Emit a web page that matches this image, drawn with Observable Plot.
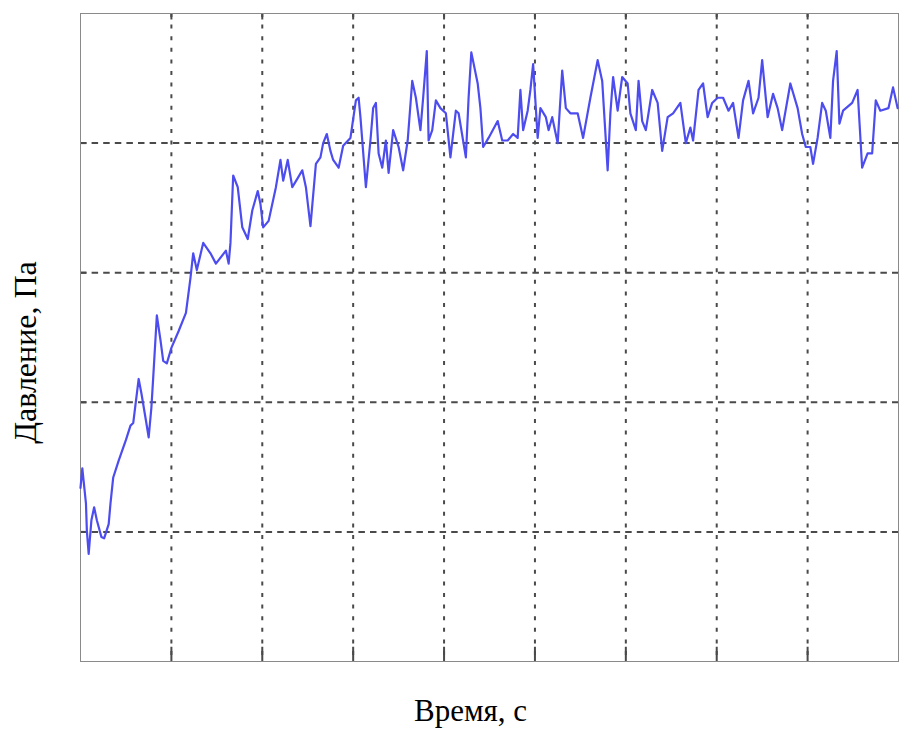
<!DOCTYPE html>
<html>
<head>
<meta charset="utf-8">
<script src="https://cdn.jsdelivr.net/npm/d3@7"></script>
<script src="https://cdn.jsdelivr.net/npm/@observablehq/plot@0.6"></script>
<style>
  html, body { margin: 0; padding: 0; background: #fff; }
</style>
</head>
<body>
<div id="chart"></div>
<script>
// Time (grid units) and pressure (grid units)
const time = [
  0.00,0.02,0.06,0.07,0.09,0.12,0.15,0.18,0.23,0.26,
  0.31,0.33,0.36,0.42,0.50,0.55,0.58,0.64,0.67,0.72,
  0.75,0.78,0.80,0.84,0.88,0.91,0.95,1.00,1.08,1.16,
  1.21,1.24,1.28,1.35,1.43,1.49,1.60,1.63,1.65,1.68,
  1.73,1.78,1.84,1.89,1.95,1.98,2.01,2.07,2.15,2.20,
  2.23,2.28,2.33,2.39,2.44,2.48,2.53,2.59,2.64,2.67,
  2.71,2.75,2.78,2.84,2.89,2.97,3.03,3.06,3.08,3.14,
  3.19,3.22,3.25,3.28,3.32,3.36,3.39,3.44,3.50,3.55,
  3.60,3.65,3.69,3.74,3.77,3.81,3.83,3.87,3.91,3.96,
  4.02,4.07,4.13,4.16,4.24,4.27,4.30,4.37,4.40,4.43,
  4.49,4.59,4.64,4.70,4.76,4.81,4.84,4.87,4.92,4.95,
  4.98,5.03,5.06,5.12,5.15,5.19,5.25,5.30,5.34,5.39,
  5.47,5.53,5.61,5.69,5.74,5.80,5.83,5.86,5.91,5.96,
  6.02,6.05,6.11,6.14,6.18,6.22,6.29,6.35,6.40,6.46,
  6.52,6.60,6.66,6.71,6.74,6.80,6.85,6.90,6.95,7.01,
  7.07,7.13,7.18,7.24,7.29,7.35,7.40,7.46,7.50,7.56,
  7.62,7.67,7.72,7.81,7.89,7.94,7.98,8.03,8.06,8.11,
  8.16,8.20,8.25,8.28,8.32,8.35,8.39,8.49,8.55,8.60,
  8.66,8.71,8.75,8.80,8.89,8.94,8.99
];
const pressure = [
  1.34,1.49,1.22,1.01,0.83,1.09,1.19,1.09,0.96,0.95,
  1.06,1.22,1.42,1.55,1.71,1.82,1.84,2.18,2.07,1.86,
  1.73,1.96,2.19,2.67,2.48,2.32,2.30,2.42,2.55,2.69,
  2.96,3.15,3.02,3.23,3.15,3.07,3.17,3.07,3.23,3.75,
  3.66,3.35,3.26,3.48,3.63,3.53,3.35,3.40,3.66,3.87,
  3.71,3.87,3.66,3.73,3.79,3.66,3.36,3.84,3.89,4.00,
  4.07,3.94,3.87,3.81,3.98,4.04,4.33,4.35,4.20,3.66,
  4.02,4.27,4.31,3.92,3.81,4.02,3.77,4.10,3.97,3.79,
  4.02,4.48,4.35,4.10,4.35,4.71,4.02,4.10,4.33,4.27,
  4.23,3.89,4.25,4.23,3.89,4.35,4.70,4.46,4.27,3.97,
  4.04,4.17,4.02,4.02,4.07,4.04,4.41,4.10,4.25,4.41,
  4.61,4.04,4.27,4.20,4.10,4.20,4.00,4.56,4.27,4.23,
  4.23,4.04,4.35,4.64,4.48,3.79,4.23,4.51,4.25,4.51,
  4.46,4.23,4.10,4.48,4.17,4.10,4.41,4.31,3.94,4.20,
  4.23,4.31,4.00,4.12,4.02,4.41,4.46,4.20,4.31,4.35,
  4.35,4.25,4.31,4.04,4.33,4.48,4.23,4.35,4.64,4.20,
  4.38,4.27,4.10,4.46,4.27,4.07,3.97,3.97,3.84,4.04,
  4.31,4.25,4.04,4.48,4.71,4.15,4.25,4.31,4.41,3.81,
  3.92,3.92,4.33,4.25,4.27,4.43,4.27
];
const xTicks = [1, 2, 3, 4, 5, 6, 7, 8];
const yTicks = [1, 2, 3, 4];
const xDomain = [0, 9];
const yDomain = [0, 5];
const xLabel = "Время, с";
const yLabel = "Давление, Па";

const series = time.map((t, i) => ({t, p: pressure[i]}));

const gridColor = "#4a4a4a";
const chart = Plot.plot({
  width: 902,
  height: 731,
  marginLeft: 80,
  marginRight: 4,
  marginTop: 13,
  marginBottom: 70,
  x: {domain: xDomain, axis: null},
  y: {domain: yDomain, axis: null},
  style: {background: "#fff", fontFamily: "'Liberation Serif', 'DejaVu Serif', serif"},
  marks: [
    Plot.ruleX(xTicks, {stroke: gridColor, strokeWidth: 2, strokeDasharray: "4,7.6"}),
    Plot.ruleY(yTicks, {stroke: gridColor, strokeWidth: 2, strokeDasharray: "6.5,5.1"}),
    // inner tick marks (MATLAB style)
    Plot.ruleX(xTicks, {y1: yDomain[0], y2: yDomain[0] + 0.11, stroke: gridColor, strokeWidth: 2}),
    Plot.ruleX(xTicks, {y1: yDomain[1] - 0.05, y2: yDomain[1], stroke: gridColor, strokeWidth: 2}),
    Plot.ruleY(yTicks, {x1: xDomain[0], x2: xDomain[0] + 0.07, stroke: gridColor, strokeWidth: 2}),
    Plot.frame({stroke: "#8a8a8a", strokeWidth: 1}),
    Plot.line(series, {x: "t", y: "p", stroke: "#4d4def", strokeWidth: 2.2, strokeLinejoin: "round"}),
    Plot.text([xLabel], {frameAnchor: "bottom", textAnchor: "middle", lineAnchor: "middle", dy: 50, dx: -19, text: d => d, fontSize: 31, fill: "#000"}),
    Plot.text([yLabel], {frameAnchor: "left", textAnchor: "middle", lineAnchor: "middle", rotate: -90, dx: -55, dy: 15, text: d => d, fontSize: 32, fill: "#000"})
  ]
});
document.getElementById("chart").appendChild(chart);
</script>
</body>
</html>
